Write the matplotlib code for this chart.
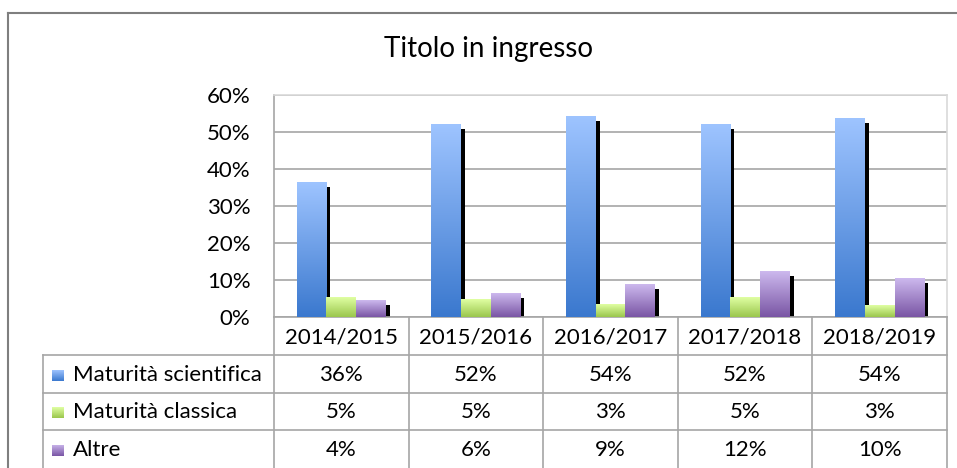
import matplotlib
matplotlib.use("Agg")
import matplotlib.pyplot as plt
import numpy as np
from matplotlib import transforms
from matplotlib.colors import LinearSegmentedColormap
from matplotlib.lines import Line2D

# ---------------- data ----------------
title = "Titolo in ingresso"
categories = ["2014/2015", "2015/2016", "2016/2017", "2017/2018", "2018/2019"]
series_names = ["Maturità scientifica", "Maturità classica", "Altre"]
scientifica = [0.364, 0.520, 0.543, 0.519, 0.537]
classica = [0.052, 0.048, 0.034, 0.052, 0.032]
altre = [0.044, 0.064, 0.089, 0.122, 0.104]
yticks = [0.0, 0.1, 0.2, 0.3, 0.4, 0.5, 0.6]

# ---------------- style ----------------
plt.rcParams['font.family'] = ['Lato', 'DejaVu Sans']
W, H = 957, 468
FS = 16
GRID = '#A6A6A6'
# (bottom, top) gradient colours per series
grads = [('#3A78CE', '#9EC4FF'), ('#9AC64C', '#E0FFA3'), ('#7955A4', '#CDB9EE')]

fig = plt.figure(figsize=(W / 100, H / 100), dpi=100)


def fx(px):
    return px / W


def fy(py):
    return 1 - py / H


ax = fig.add_axes([fx(274), fy(317), fx(947) - fx(274), fy(95) - fy(317)])

series = [scientifica, classica, altre]
x = np.arange(len(categories))
bw = 0.22
offsets = [-bw, 0, bw]

shadow_tr = ax.transData + transforms.ScaledTranslation(4 / 100, -4.5 / 100, fig.dpi_scale_trans)

# shadows
for vals, off in zip(series, offsets):
    sh = ax.bar(x + off, vals, bw, color='black', zorder=2, linewidth=0)
    for p in sh.patches:
        p.set_transform(shadow_tr)

# bars with vertical gradients
grad = np.linspace(0, 1, 256).reshape(-1, 1)
for vals, off, (c0, c1) in zip(series, offsets, grads):
    cmap = LinearSegmentedColormap.from_list('g', [c0, c1])
    bars = ax.bar(x + off, vals, bw, color=c0, zorder=3, linewidth=0)
    for p in bars.patches:
        x0, w, h = p.get_x(), p.get_width(), p.get_height()
        ax.imshow(grad, extent=(x0, x0 + w, 0, h), origin='lower', cmap=cmap,
                  aspect='auto', zorder=4, interpolation='bilinear')

ax.set_xlim(-0.5, len(categories) - 0.5)
ax.set_ylim(0, 0.6)
ax.set_yticks(yticks)
ax.set_yticklabels([f"{int(round(t * 100))}%" for t in yticks], fontsize=FS)
ax.set_xticks([])
ax.tick_params(axis='y', length=0, pad=17, colors='#000000')
ax.yaxis.grid(True, color=GRID, lw=1.2)
ax.set_axisbelow(True)
ax.spines['left'].set_color(GRID)
ax.spines['bottom'].set_color(GRID)
ax.spines['top'].set_color('#D9D9D9')
ax.spines['right'].set_color('#D9D9D9')
for s in ax.spines.values():
    s.set_linewidth(1.2)

# ---------------- data table ----------------
T = transforms.blended_transform_factory(ax.transData, fig.transFigure)
edges = [i - 0.5 for i in range(len(categories) + 1)]
for e in edges:
    fig.add_artist(Line2D([e, e], [fy(317), fy(468)], transform=T, color=GRID, lw=1.2))
right = ax.get_position().x1
for yy in [355, 393, 430]:
    fig.add_artist(Line2D([fx(43), right], [fy(yy), fy(yy)], transform=fig.transFigure, color=GRID, lw=1.2))
fig.add_artist(Line2D([fx(43), fx(43)], [fy(355), fy(468)], transform=fig.transFigure, color=GRID, lw=1.2))

for i, c in enumerate(categories):
    fig.text(i, fy(344), c, transform=T, ha='center', va='baseline', fontsize=FS)

row_base = [381, 418, 456]
for name, vals, (c0, c1), yb in zip(series_names, series, grads, row_base):
    cmap = LinearSegmentedColormap.from_list('g', [c0, c1])
    kax = fig.add_axes([fx(52), fy(yb), 12 / W, 11 / H])
    kax.imshow(grad, origin='lower', cmap=cmap, aspect='auto', extent=(0, 1, 0, 1))
    kax.axis('off')
    fig.text(fx(73), fy(yb), name, ha='left', va='baseline', fontsize=FS)
    for i, v in enumerate(vals):
        fig.text(i, fy(yb), f"{v * 100:.0f}%", transform=T, ha='center', va='baseline', fontsize=FS)

# ---------------- title & frame ----------------
fig.text(fx(488), fy(57), title, ha='center', va='baseline', fontsize=20)
fig.add_artist(Line2D([fx(8), 1], [fy(13), fy(13)], transform=fig.transFigure, color='#7F7F7F', lw=1.5))
fig.add_artist(Line2D([fx(8), fx(8)], [fy(13), 0], transform=fig.transFigure, color='#7F7F7F', lw=1.5))

fig.savefig("out.png", dpi=100)
